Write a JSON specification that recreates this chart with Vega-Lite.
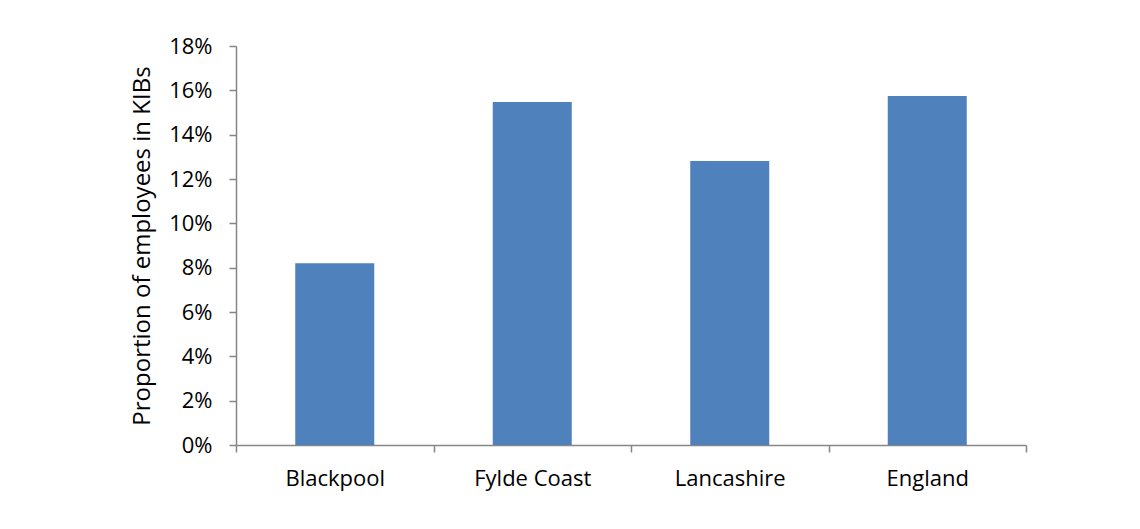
{
  "$schema": "https://vega.github.io/schema/vega-lite/v6.json",
  "autosize": "none",
  "width": 790,
  "height": 399,
  "padding": {"left": 236, "top": 46, "right": 114, "bottom": 84},
  "background": "white",
  "config": {
    "view": {"stroke": null},
    "font": "Open Sans",
    "axis": {"labelFont": "Open Sans", "titleFont": "Open Sans", "labelColor": "#000000", "titleColor": "#000000", "domainColor": "#868686", "tickColor": "#868686", "grid": false}
  },
  "data": {"values": [
    {"area": "Blackpool", "share": 0.082},
    {"area": "Fylde Coast", "share": 0.1547},
    {"area": "Lancashire", "share": 0.1281},
    {"area": "England", "share": 0.1574}
  ]},
  "mark": {"type": "bar", "color": "#4F81BD", "width": {"band": 0.4}},
  "encoding": {
    "x": {
      "field": "area", "type": "nominal", "sort": null,
      "scale": {"paddingInner": 0, "paddingOuter": 0},
      "axis": {"title": null, "labelAngle": 0, "labelFontSize": 22, "labelPadding": 16, "tickBand": "extent", "tickSize": 7, "domainWidth": 1.5, "tickWidth": 1.5}
    },
    "y": {
      "field": "share", "type": "quantitative",
      "scale": {"domain": [0, 0.18], "nice": false},
      "axis": {"format": ".0%", "values": [0, 0.02, 0.04, 0.06, 0.08, 0.1, 0.12, 0.14, 0.16, 0.18], "title": "Proportion of employees in KIBs", "titleFontSize": 24, "titleFontWeight": "normal", "titlePadding": 14, "labelFontSize": 22, "labelPadding": 17, "tickSize": 7, "domainWidth": 1.5, "tickWidth": 1.5}
    }
  }
}
